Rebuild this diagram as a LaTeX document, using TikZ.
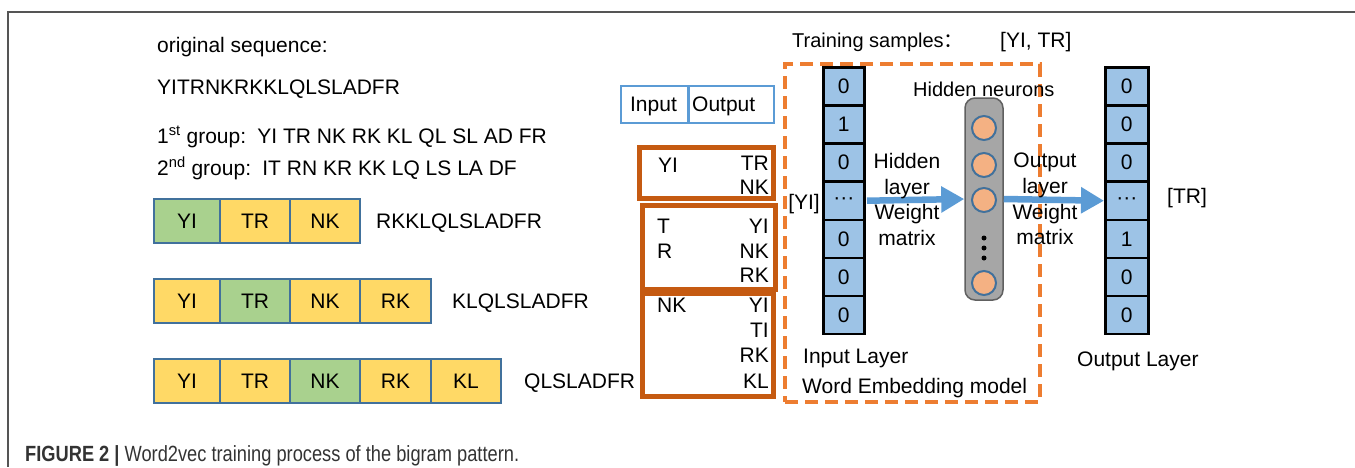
\documentclass[tikz,border=0pt]{standalone}
\usepackage{fontspec}
\setmainfont{Liberation Sans}
\newfontfamily\cjkfont{Noto Sans CJK SC}
\newfontfamily\capfont[FakeStretch=0.83]{Liberation Sans}
\usetikzlibrary{arrows.meta}
\definecolor{frameg}{HTML}{555555}
\definecolor{cellY}{HTML}{FFD966}
\definecolor{cellG}{HTML}{A9D18E}
\definecolor{cellB}{HTML}{41719C}
\definecolor{vecB}{HTML}{9DC3E6}
\definecolor{brn}{HTML}{C55A11}
\definecolor{orng}{HTML}{ED7D31}
\definecolor{arrB}{HTML}{5B9BD5}
\definecolor{neuF}{HTML}{F4B183}
\definecolor{hidG}{HTML}{A6A6A6}
\definecolor{ioB}{HTML}{5B9BD5}
\definecolor{capC}{HTML}{333333}
\begin{document}
\begin{tikzpicture}[x=1pt,y=-1pt,font=\fontsize{21}{25}\selectfont]
\tikzset{
  txt/.style={anchor=base west,inner sep=0pt},
  txtr/.style={anchor=base east,inner sep=0pt},
  cellbox/.style={draw=cellB,line width=2pt,minimum height=44pt,inner sep=0pt,anchor=north west},
  vcell/.style={draw=black,line width=2.5pt,fill=vecB,minimum height=38.14pt,inner sep=0pt,anchor=north west},
  brbox/.style={draw=brn,line width=5pt,inner sep=0pt,anchor=north west},
  iobox/.style={draw=ioB,line width=2pt,inner sep=0pt,anchor=north west,minimum height=37pt},
  neuron/.style={circle,draw=cellB,fill=neuF,line width=2pt,minimum size=24pt,inner sep=0pt},
  dotn/.style={circle,fill=black,minimum size=5pt,inner sep=0pt},
  bluearrow/.style={draw=arrB,line width=6.5pt,-{Triangle[length=23pt,width=25pt]}},
}
\useasboundingbox (0,0) rectangle (1355,467);
% frame
\draw[frameg,line width=1.5pt] (1355,12) -- (8,12) -- (8,467);
% left texts
\node[txt] (os) at (157,52) {original sequence:};
\node[txt] (seq) at (157,94) {YITRNKRKKLQLSLADFR};
\node[txt] (g1) at (157,143) {1\textsuperscript{st} group:\, YI TR NK RK KL QL SL AD FR};
\node[txt] (g2) at (157,175) {2\textsuperscript{nd} group:\, IT RN KR KK LQ LS LA DF};
% row 1
\node[cellbox,fill=cellG,minimum width=66pt] (a1) at (153,198) {YI};
\node[cellbox,fill=cellY,minimum width=70pt] (a2) at (219,198) {TR};
\node[cellbox,fill=cellY,minimum width=70pt] (a3) at (289,198) {NK};
\node[txt] (ra) at (376,228) {RKKLQLSLADFR};
% row 2
\node[cellbox,fill=cellY,minimum width=66pt] (b1) at (153,278) {YI};
\node[cellbox,fill=cellG,minimum width=70pt] (b2) at (219,278) {TR};
\node[cellbox,fill=cellY,minimum width=70pt] (b3) at (289,278) {NK};
\node[cellbox,fill=cellY,minimum width=71pt] (b4) at (359,278) {RK};
\node[txt] (rb) at (452,308) {KLQLSLADFR};
% row 3
\node[cellbox,fill=cellY,minimum width=66pt] (c1) at (153,358) {YI};
\node[cellbox,fill=cellY,minimum width=70pt] (c2) at (219,358) {TR};
\node[cellbox,fill=cellG,minimum width=70pt] (c3) at (289,358) {NK};
\node[cellbox,fill=cellY,minimum width=71pt] (c4) at (359,358) {RK};
\node[cellbox,fill=cellY,minimum width=70pt] (c5) at (430,358) {KL};
\node[txt] (rc) at (524,388) {QLSLADFR};
% input/output header
\node[iobox,minimum width=67pt] (ib) at (620,85) {};
\node[iobox,minimum width=85pt] (ob) at (688,85) {};
\node[anchor=base,inner sep=0pt] (ibt) at (653.5,111) {Input};
\node[txt] (obt) at (692,111) {Output};
% brown boxes
\node[brbox,minimum width=134pt,minimum height=51pt] (ba) at (637,145) {};
\node[brbox,minimum width=133pt,minimum height=84pt] (bb) at (640,203) {};
\node[brbox,minimum width=131pt,minimum height=103pt] (bc) at (640,291) {};
\node[txt] (ba1) at (658,172) {YI};
\node[txtr] (ba2) at (769,170) {TR};
\node[txtr] (ba3) at (769,194) {NK};
\node[txt] (bb1) at (657,233) {T};
\node[txt] (bb2) at (657,258) {R};
\node[txtr] (bb3) at (769,233) {YI};
\node[txtr] (bb4) at (769,258) {NK};
\node[txtr] (bb5) at (769,282) {RK};
\node[txt] (bc1) at (657,312) {NK};
\node[txtr] (bc2) at (769,312) {YI};
\node[txtr] (bc3) at (769,337) {TI};
\node[txtr] (bc4) at (769,362) {RK};
\node[txtr] (bc5) at (769,388) {KL};
% dashed model box
\node[draw=orng,line width=4pt,dash pattern=on 13pt off 7pt,minimum width=255pt,minimum height=338pt,inner sep=0pt,anchor=north west] (wem) at (783,62) {};
\node[txt] (ts) at (792,47) {\fontsize{20}{24}\selectfont Training samples{\cjkfont ：}};
\node[txt] (tsv) at (1000,47) {[YI, TR]};
% input vector
\foreach \v [count=\i] in {0,1,0,···,0,0,0}
  \node[vcell,minimum width=41pt] (in\i) at (822,{66+38.14*(\i-1)}) {\v};
% output vector
\foreach \v [count=\i] in {0,0,0,···,1,0,0}
  \node[vcell,minimum width=43pt] (out\i) at (1104,{66+38.14*(\i-1)}) {\v};
\node[txtr] (yi) at (820,209) {[YI]};
\node[txt] (tr) at (1167,203) {[TR]};
% hidden layer
\node[txt] (hn) at (913,96) {\fontsize{20}{24}\selectfont Hidden neurons};
\node[draw=gray!75!black,fill=hidG,rounded corners=10pt,line width=1.5pt,minimum width=38pt,minimum height=202pt,inner sep=0pt] (hid) at (984,199) {};
\node[neuron] (n1) at (984,128) {};
\node[neuron] (n2) at (984,165) {};
\node[neuron] (n3) at (984,200) {};
\node[dotn] (d1) at (984,238) {};
\node[dotn] (d2) at (984,248) {};
\node[dotn] (d3) at (984,258) {};
\node[neuron] (n4) at (984,283) {};
% arrows
\draw[bluearrow,shorten <=1.5pt] (in4.east) -- (hid.west);
\draw[bluearrow] (hid.east) -- (out4.west);
\node[anchor=north,inner sep=0pt,align=center,font=\fontsize{21}{25.6}\selectfont] (hlw) at (907,153) {Hidden\\layer\\Weight\\matrix};
\node[anchor=north,inner sep=0pt,align=center,font=\fontsize{21}{25.6}\selectfont] (olw) at (1045,153) {Output\\layer\\Weight\\matrix};
% layer labels
\node[txt] (il) at (803,363) {Input Layer};
\node[txt] (wm) at (802,393) {Word Embedding model};
\node[txt] (ol) at (1077,366) {Output Layer};
% caption
\node[txt,text=capC] (cap) at (25,461) {\capfont\fontsize{22}{24}\selectfont\textbf{FIGURE 2 |} Word2vec training process of the bigram pattern.};
\end{tikzpicture}
\end{document}
